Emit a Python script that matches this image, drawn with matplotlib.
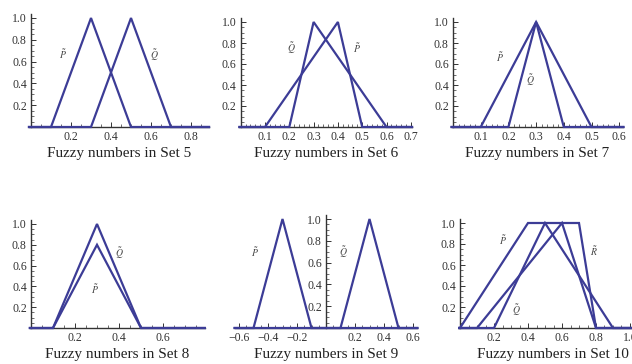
import matplotlib
matplotlib.use('Agg')
import matplotlib.pyplot as plt
from matplotlib.ticker import MultipleLocator, FixedLocator

plt.rcParams['font.family'] = ['Liberation Serif', 'DejaVu Serif']
plt.rcParams['mathtext.fontset'] = 'stix'

LINE = "#3c3c96"
AXIS = "#333333"

# membership functions: (support points, membership values)
set5_P = ([0.1, 0.3, 0.5], [0, 1, 0])
set5_Q = ([0.3, 0.5, 0.7], [0, 1, 0])
set6_P = ([0.1, 0.4, 0.5], [0, 1, 0])
set6_Q = ([0.2, 0.3, 0.6], [0, 1, 0])
set7_P = ([0.1, 0.3, 0.5], [0, 1, 0])
set7_Q = ([0.2, 0.3, 0.4], [0, 1, 0])
set8_P = ([0.1, 0.3, 0.5], [0, 0.8, 0])
set8_Q = ([0.1, 0.3, 0.5], [0, 1, 0])
set9_P = ([-0.5, -0.3, -0.1], [0, 1, 0])
set9_Q = ([0.1, 0.3, 0.5], [0, 1, 0])
set10_P = ([0.0, 0.4, 0.7, 0.8], [0, 1, 1, 0])
set10_Q = ([0.2, 0.5, 0.9], [0, 1, 0])
set10_R = ([0.1, 0.6, 0.8], [0, 1, 0])

y_ticks = [0.2, 0.4, 0.6, 0.8, 1.0]

# panel: title, curves, labels (text, x, y), x ticks, x range, pixel layout
panels = [
    dict(title="Fuzzy numbers in Set 5", curves=[set5_P, set5_Q],
         labels=[("P", 0.16, 0.67), ("Q", 0.615, 0.66)],
         xticks=[0.2, 0.4, 0.6, 0.8], minor=0.05, xlim=(-0.01, 0.89),
         origin=(31, 127), scale=(200, 109)),
    dict(title="Fuzzy numbers in Set 6", curves=[set6_P, set6_Q],
         labels=[("Q", 0.21, 0.75), ("P", 0.48, 0.75)],
         xticks=[0.1, 0.2, 0.3, 0.4, 0.5, 0.6, 0.7], minor=0.02, xlim=(-0.005, 0.705),
         origin=(240.7, 127), scale=(243, 105)),
    dict(title="Fuzzy numbers in Set 7", curves=[set7_P, set7_Q],
         labels=[("P", 0.17, 0.67), ("Q", 0.28, 0.45)],
         xticks=[0.1, 0.2, 0.3, 0.4, 0.5, 0.6], minor=0.02, xlim=(-0.005, 0.615),
         origin=(453, 127), scale=(277, 105)),
    dict(title="Fuzzy numbers in Set 8", curves=[set8_P, set8_Q],
         labels=[("Q", 0.40, 0.72), ("P", 0.29, 0.37)],
         xticks=[0.2, 0.4, 0.6, 0.8], minor=0.05, xlim=(-0.005, 0.79),
         origin=(31, 328), scale=(220, 104)),
    dict(title="Fuzzy numbers in Set 9", curves=[set9_P, set9_Q],
         labels=[("P", -0.49, 0.70), ("Q", 0.12, 0.70)],
         xticks=[-0.6, -0.4, -0.2, 0.2, 0.4, 0.6], minor=0.05, xlim=(-0.63, 0.63),
         origin=(326, 328), scale=(145, 109)),
    dict(title="Fuzzy numbers in Set 10", curves=[set10_P, set10_Q, set10_R],
         labels=[("P", 0.255, 0.84), ("Q", 0.33, 0.17), ("R", 0.79, 0.73)],
         xticks=[0.2, 0.4, 0.6, 0.8, 1.0], minor=0.05, xlim=(-0.005, 1.1),
         origin=(460, 328), scale=(170, 105)),
]

W, H = 632, 364
fig = plt.figure(figsize=(W / 100, H / 100), dpi=100)

for p in panels:
    ox, oy = p["origin"]
    sx, sy = p["scale"]
    x0, x1 = p["xlim"]
    y0, y1 = -0.01, 1.04
    left = ox + x0 * sx
    width = (x1 - x0) * sx
    bottom = H - oy + y0 * sy
    height = (y1 - y0) * sy
    ax = fig.add_axes([left / W, bottom / H, width / W, height / H])
    ax.patch.set_alpha(0)

    for xs, ys in p["curves"]:
        xx = [x0] + list(xs) + [x1]
        yy = [0] + list(ys) + [0]
        ax.plot(xx, yy, color=LINE, lw=1.6, solid_joinstyle="miter", clip_on=False, zorder=3)

    for name, lx, ly in p["labels"]:
        ax.text(lx, ly, r"$\tilde{%s}$" % name, fontsize=7, color="#444444",
                ha="center", va="center")

    ax.set_xlim(x0, x1)
    ax.set_ylim(y0, y1)
    for s in ["top", "right"]:
        ax.spines[s].set_visible(False)
    ax.spines["left"].set_position(("data", 0))
    ax.spines["bottom"].set_position(("data", 0))
    ax.spines["left"].set_bounds(0, y1)
    for s in ["left", "bottom"]:
        ax.spines[s].set_color(AXIS)
        ax.spines[s].set_linewidth(1.0)

    ax.xaxis.set_major_locator(FixedLocator(p["xticks"]))
    ax.set_xticklabels([("%.1f" % t).replace("-", "\u2212") for t in p["xticks"]])
    ax.xaxis.set_minor_locator(MultipleLocator(p["minor"]))
    ax.yaxis.set_major_locator(FixedLocator(y_ticks))
    ax.set_yticklabels(["%.1f" % t for t in y_ticks])
    ax.yaxis.set_minor_locator(MultipleLocator(0.05))
    ax.tick_params(which="major", direction="in", length=3.5, width=0.7, color=AXIS,
                   labelsize=8.5, labelcolor="#333333", pad=3)
    ax.tick_params(which="minor", direction="in", length=2, width=0.5, color=AXIS)

    ax.set_xlabel(p["title"], fontsize=11, color="#222222", labelpad=2.5)

fig.savefig("out.png", dpi=100)
